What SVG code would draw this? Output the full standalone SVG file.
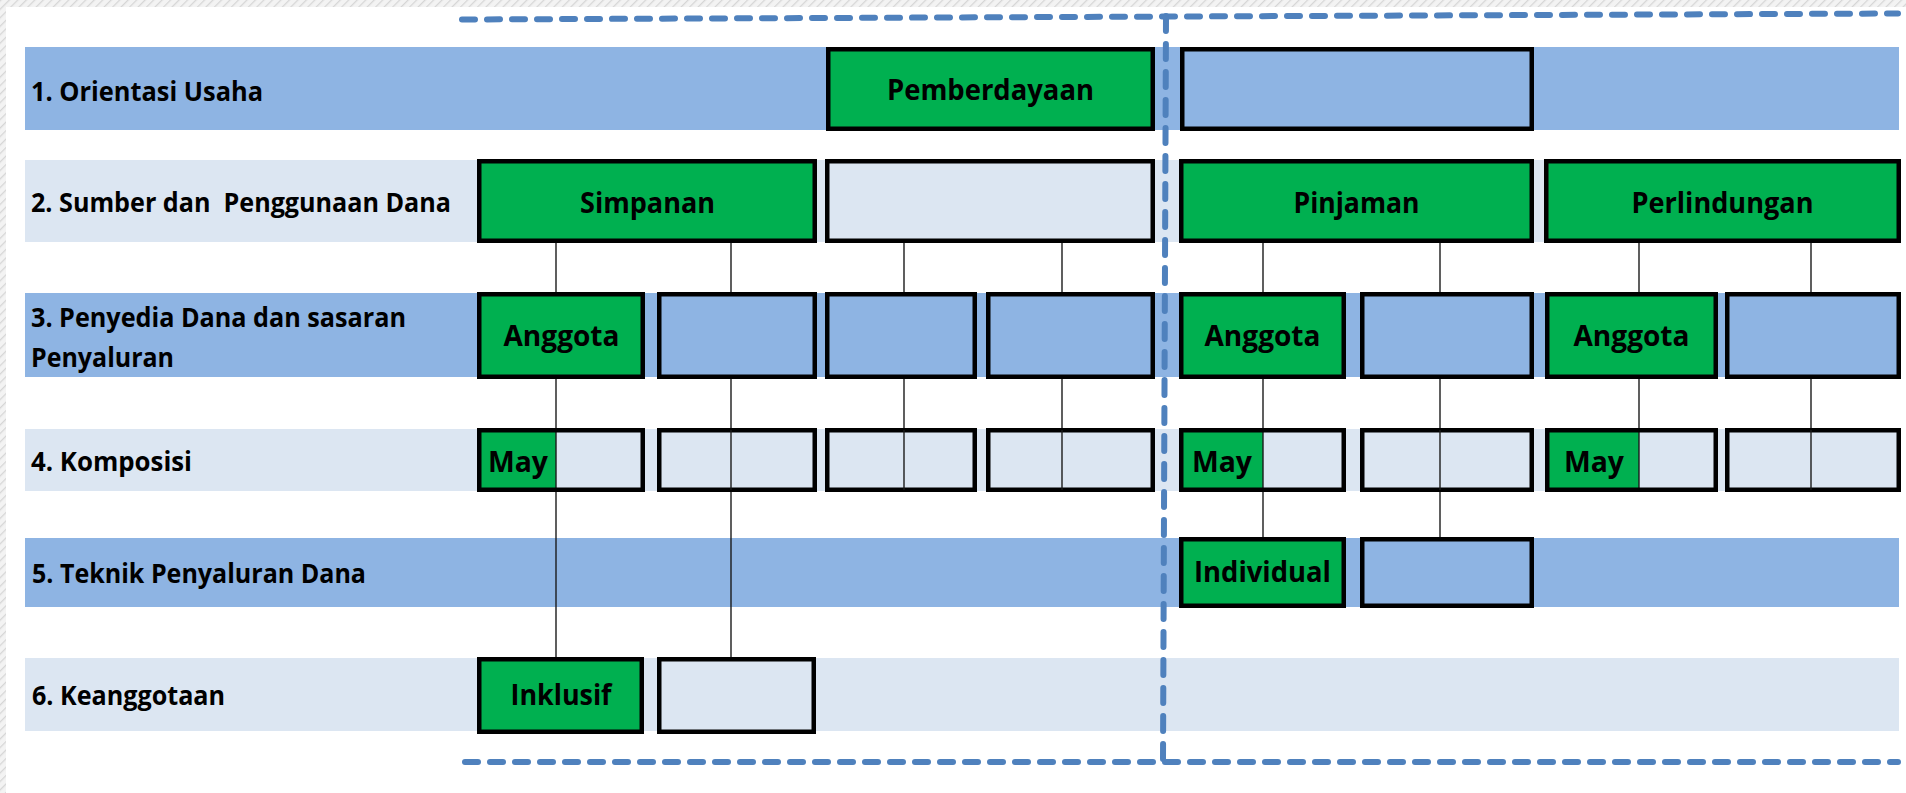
<svg xmlns="http://www.w3.org/2000/svg" width="1906" height="793" viewBox="0 0 1906 793">
  <style>
    .band-mid { fill: #8EB4E3; }
    .band-light { fill: #DCE6F2; }
    .box { stroke: #000; stroke-width: 4.5; }
    .g { fill: #00B050; }
    .b { fill: #8EB4E3; }
    .l { fill: #DCE6F2; }
    .div { stroke: #1a1a1a; stroke-width: 1.4; }
    .conn { stroke: #1a1a1a; stroke-width: 1.4; fill: none; }
    .frame { stroke: #4F81BD; stroke-width: 6; stroke-linecap: round; fill: none; }
    .lbl { font-family: "Open Sans", "Liberation Sans", sans-serif; font-weight: 700; font-size: 26px; fill: #000; white-space: pre; }
    .txt { font-family: "Open Sans", "Liberation Sans", sans-serif; font-weight: 700; font-size: 28px; fill: #000; text-anchor: middle; }
  </style>
  <defs>
    <pattern id="hatch" width="6" height="6" patternUnits="userSpaceOnUse" patternTransform="rotate(45)">
      <rect width="6" height="6" fill="#F3F3F3"/>
      <line x1="0" y1="0" x2="0" y2="6" stroke="#D6D6D6" stroke-width="2.5"/>
    </pattern>
  </defs>

  <!-- page -->
  <rect width="1906" height="793" fill="#FFFFFF"/>
  <rect x="0" y="0" width="1906" height="7" fill="url(#hatch)"/>
  <rect x="0" y="0" width="6" height="793" fill="url(#hatch)"/>

  <!-- row bands -->
  <g id="bands">
    <rect class="band-mid" x="25" y="47" width="1874" height="83"/>
    <rect class="band-light" x="25" y="160" width="1874" height="82"/>
    <rect class="band-mid" x="25" y="293" width="1874" height="84"/>
    <rect class="band-light" x="25" y="429" width="1874" height="62"/>
    <rect class="band-mid" x="25" y="538" width="1874" height="69"/>
    <rect class="band-light" x="25" y="658" width="1874" height="73"/>
  </g>

  <!-- row labels -->
  <g id="labels">
    <text class="lbl" x="31" y="100.5" textLength="232" lengthAdjust="spacingAndGlyphs">1. Orientasi Usaha</text>
    <text class="lbl" x="31" y="212" textLength="420" lengthAdjust="spacingAndGlyphs">2. Sumber dan  Penggunaan Dana</text>
    <text class="lbl" x="31" y="327" textLength="375" lengthAdjust="spacingAndGlyphs">3. Penyedia Dana dan sasaran</text>
    <text class="lbl" x="31" y="367" textLength="143" lengthAdjust="spacingAndGlyphs">Penyaluran</text>
    <text class="lbl" x="31" y="471" textLength="161" lengthAdjust="spacingAndGlyphs">4. Komposisi</text>
    <text class="lbl" x="32" y="583" textLength="334" lengthAdjust="spacingAndGlyphs">5. Teknik Penyaluran Dana</text>
    <text class="lbl" x="32" y="705" textLength="193" lengthAdjust="spacingAndGlyphs">6. Keanggotaan</text>
  </g>

  <!-- connectors -->
  <g id="connectors">
    <line class="conn" x1="556" y1="243" x2="556" y2="657"/>
    <line class="conn" x1="731" y1="243" x2="731" y2="657"/>
    <line class="conn" x1="904" y1="243" x2="904" y2="492"/>
    <line class="conn" x1="1062" y1="243" x2="1062" y2="492"/>
    <line class="conn" x1="1263" y1="243" x2="1263" y2="537"/>
    <line class="conn" x1="1440" y1="243" x2="1440" y2="537"/>
    <line class="conn" x1="1639" y1="243" x2="1639" y2="492"/>
    <line class="conn" x1="1811" y1="243" x2="1811" y2="492"/>
  </g>

  <!-- row 1 -->
  <g id="pemberdayaan">
    <rect class="box g" x="828.25" y="49.25" width="324.5" height="79.5"/>
    <text class="txt" x="990.5" y="100" textLength="207" lengthAdjust="spacingAndGlyphs">Pemberdayaan</text>
  </g>
  <g id="orientasi-2">
    <rect class="box b" x="1182.25" y="49.25" width="349.5" height="79.5"/>
  </g>

  <!-- row 2 -->
  <g id="simpanan">
    <rect class="box g" x="479.25" y="161.25" width="335.5" height="79.5"/>
    <text class="txt" x="647.5" y="213" textLength="135" lengthAdjust="spacingAndGlyphs">Simpanan</text>
  </g>
  <g id="dana-2">
    <rect class="box l" x="827.25" y="161.25" width="325.5" height="79.5"/>
  </g>
  <g id="pinjaman">
    <rect class="box g" x="1181.25" y="161.25" width="350.5" height="79.5"/>
    <text class="txt" x="1356.5" y="213" textLength="126" lengthAdjust="spacingAndGlyphs">Pinjaman</text>
  </g>
  <g id="perlindungan">
    <rect class="box g" x="1546.25" y="161.25" width="352.5" height="79.5"/>
    <text class="txt" x="1722.5" y="213" textLength="182" lengthAdjust="spacingAndGlyphs">Perlindungan</text>
  </g>

  <!-- row 3 -->
  <g id="anggota-1">
    <rect class="box g" x="479.25" y="294.25" width="163.5" height="82.5"/>
    <text class="txt" x="561.5" y="346" textLength="116" lengthAdjust="spacingAndGlyphs">Anggota</text>
  </g>
  <g id="penyedia-2"><rect class="box b" x="659.25" y="294.25" width="155.5" height="82.5"/></g>
  <g id="penyedia-3"><rect class="box b" x="827.25" y="294.25" width="147.5" height="82.5"/></g>
  <g id="penyedia-4"><rect class="box b" x="988.25" y="294.25" width="164.5" height="82.5"/></g>
  <g id="anggota-2">
    <rect class="box g" x="1181.25" y="294.25" width="162.5" height="82.5"/>
    <text class="txt" x="1262.5" y="346" textLength="116" lengthAdjust="spacingAndGlyphs">Anggota</text>
  </g>
  <g id="penyedia-6"><rect class="box b" x="1362.25" y="294.25" width="169.5" height="82.5"/></g>
  <g id="anggota-3">
    <rect class="box g" x="1547.25" y="294.25" width="168.5" height="82.5"/>
    <text class="txt" x="1631.5" y="346" textLength="116" lengthAdjust="spacingAndGlyphs">Anggota</text>
  </g>
  <g id="penyedia-8"><rect class="box b" x="1727.25" y="294.25" width="171.5" height="82.5"/></g>

  <!-- row 4 -->
  <g id="komposisi-1">
    <rect class="l" x="479" y="430" width="164" height="60"/>
    <rect class="g" x="479" y="430" width="77" height="60"/>
    <line class="div" x1="556" y1="430" x2="556" y2="490"/>
    <rect class="box" fill="none" x="479.25" y="430.25" width="163.5" height="59.5"/>
    <text class="txt" x="518" y="471.5" textLength="60" lengthAdjust="spacingAndGlyphs">May</text>
  </g>
  <g id="komposisi-2">
    <rect class="box l" x="659.25" y="430.25" width="155.5" height="59.5"/>
    <line class="div" x1="731" y1="430" x2="731" y2="490"/>
  </g>
  <g id="komposisi-3">
    <rect class="box l" x="827.25" y="430.25" width="147.5" height="59.5"/>
    <line class="div" x1="904" y1="430" x2="904" y2="490"/>
  </g>
  <g id="komposisi-4">
    <rect class="box l" x="988.25" y="430.25" width="164.5" height="59.5"/>
    <line class="div" x1="1062" y1="430" x2="1062" y2="490"/>
  </g>
  <g id="komposisi-5">
    <rect class="l" x="1181" y="430" width="163" height="60"/>
    <rect class="g" x="1181" y="430" width="82" height="60"/>
    <line class="div" x1="1263" y1="430" x2="1263" y2="490"/>
    <rect class="box" fill="none" x="1181.25" y="430.25" width="162.5" height="59.5"/>
    <text class="txt" x="1222" y="471.5" textLength="60" lengthAdjust="spacingAndGlyphs">May</text>
  </g>
  <g id="komposisi-6">
    <rect class="box l" x="1362.25" y="430.25" width="169.5" height="59.5"/>
    <line class="div" x1="1440" y1="430" x2="1440" y2="490"/>
  </g>
  <g id="komposisi-7">
    <rect class="l" x="1547" y="430" width="169" height="60"/>
    <rect class="g" x="1547" y="430" width="92" height="60"/>
    <line class="div" x1="1639" y1="430" x2="1639" y2="490"/>
    <rect class="box" fill="none" x="1547.25" y="430.25" width="168.5" height="59.5"/>
    <text class="txt" x="1594" y="471.5" textLength="60" lengthAdjust="spacingAndGlyphs">May</text>
  </g>
  <g id="komposisi-8">
    <rect class="box l" x="1727.25" y="430.25" width="171.5" height="59.5"/>
    <line class="div" x1="1811" y1="430" x2="1811" y2="490"/>
  </g>

  <!-- row 5 -->
  <g id="individual">
    <rect class="box g" x="1181.25" y="539.25" width="162.5" height="66.5"/>
    <text class="txt" x="1262.5" y="582" textLength="137" lengthAdjust="spacingAndGlyphs">Individual</text>
  </g>
  <g id="teknik-2"><rect class="box b" x="1362.25" y="539.25" width="169.5" height="66.5"/></g>

  <!-- row 6 -->
  <g id="inklusif">
    <rect class="box g" x="479.25" y="659.25" width="162.5" height="72.5"/>
    <text class="txt" x="561" y="705" textLength="101" lengthAdjust="spacingAndGlyphs">Inklusif</text>
  </g>
  <g id="keanggotaan-2"><rect class="box l" x="659.25" y="659.25" width="154.5" height="72.5"/></g>

  <!-- dashed frame -->
  <g id="frame">
    <line class="frame" x1="462" y1="19.5" x2="1898" y2="13.5" stroke-dasharray="13 12"/>
    <line class="frame" x1="1166" y1="16" x2="1163" y2="760" stroke-dasharray="15 13"/>
    <line class="frame" x1="465" y1="762" x2="1898" y2="762" stroke-dasharray="13 12"/>
  </g>
</svg>
